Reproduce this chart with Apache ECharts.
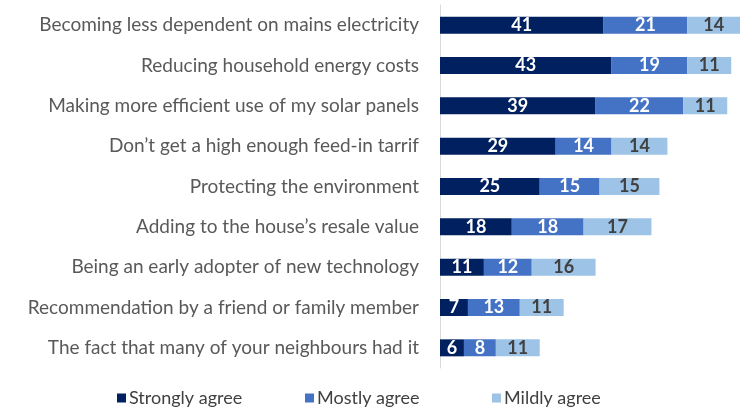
<!DOCTYPE html>
<html>
<head>
<meta charset="utf-8">
<script src="https://cdn.jsdelivr.net/npm/echarts@6/dist/echarts.min.js"></script>
<style>
  html, body { margin: 0; padding: 0; background: #fff; }
  #main { width: 740px; height: 410px; }
</style>
</head>
<body>
<div id="main"></div>
<script>
var categories = [
    'Becoming less dependent on mains electricity',
    'Reducing household energy costs',
    'Making more efficient use of my solar panels',
    'Don\u2019t get a high enough feed-in tarrif',
    'Protecting the environment',
    'Adding to the house\u2019s resale value',
    'Being an early adopter of new technology',
    'Recommendation by a friend or family member',
    'The fact that many of your neighbours had it'
];
var stronglyAgree = [41, 43, 39, 29, 25, 18, 11, 7, 6];
var mostlyAgree   = [21, 19, 22, 14, 15, 18, 12, 13, 8];
var mildlyAgree   = [14, 11, 11, 14, 15, 17, 16, 11, 11];

var seriesNames = ['Strongly agree', 'Mostly agree', 'Mildly agree'];
var colors = ['#002060', '#4472C4', '#9DC3E6'];
var labelColors = ['#ffffff', '#ffffff', '#404040'];
var fontName = 'Lato, sans-serif';

var chart = echarts.init(document.getElementById('main'));

function makeSeries(i, data) {
    return {
        name: seriesNames[i],
        type: 'bar',
        stack: 'total',
        data: data,
        barWidth: 17,
        itemStyle: { color: colors[i] },
        label: {
            show: true,
            position: 'inside',
            color: labelColors[i],
            fontFamily: fontName,
            fontWeight: 'bold',
            fontSize: 18
        }
    };
}

function makeLegend(i, left) {
    return {
        data: [seriesNames[i]],
        left: left,
        top: 384,
        itemWidth: 9,
        itemHeight: 9,
        icon: 'rect',
        itemGap: 0,
        textStyle: { fontFamily: fontName, fontSize: 18, color: '#404040', padding: [0, 0, 0, -2] }
    };
}

var option = {
    animation: false,
    grid: { left: 440, right: 0, top: 5, height: 363 },
    xAxis: {
        type: 'value',
        min: 0,
        max: 75.2,
        show: false
    },
    yAxis: {
        type: 'category',
        inverse: true,
        data: categories,
        axisLine: { show: true, lineStyle: { color: '#d9d9d9', width: 1 } },
        axisTick: { show: false },
        axisLabel: {
            fontFamily: fontName,
            fontSize: 19,
            color: '#595959',
            margin: 21
        }
    },
    legend: [makeLegend(0, 112), makeLegend(1, 300), makeLegend(2, 487)],
    series: [
        makeSeries(0, stronglyAgree),
        makeSeries(1, mostlyAgree),
        makeSeries(2, mildlyAgree)
    ]
};

chart.setOption(option);
</script>
</body>
</html>
